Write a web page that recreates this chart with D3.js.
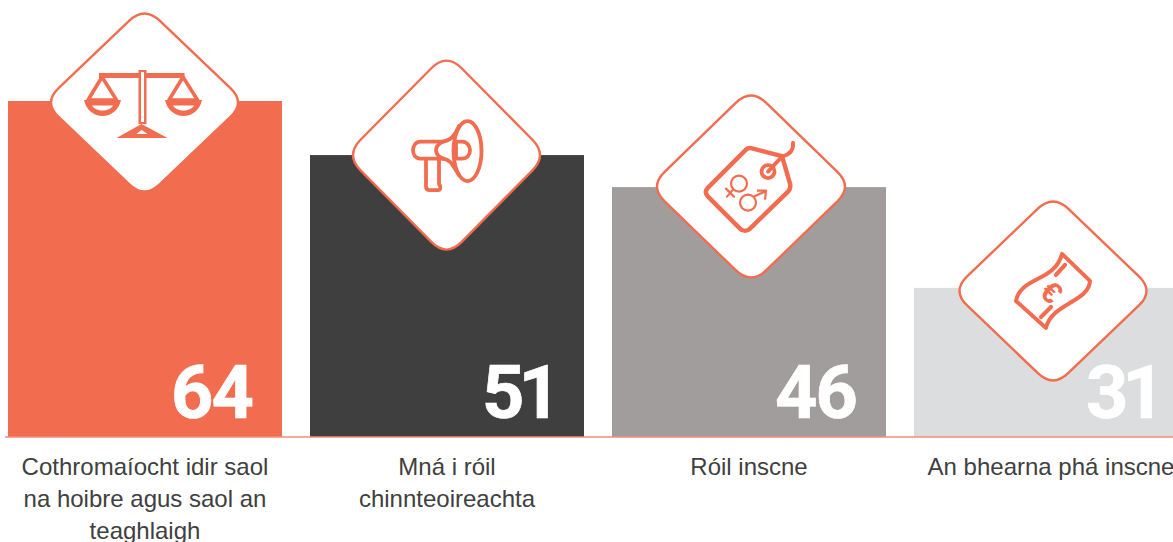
<!DOCTYPE html>
<html><head><meta charset="utf-8">
<script src="https://cdn.jsdelivr.net/npm/d3@7"></script>
<style>html,body{margin:0;padding:0;background:#fff;overflow:hidden}svg{display:block}
text{font-family:"Liberation Sans",Arial,Helvetica,sans-serif}</style>
</head><body><div id="c"></div>
<script>
const categories = ["equality","leaders","roles","pay"];
const valueLabels = ["64","51","46","31"];
// Drawn bar heights (not strictly proportional to the printed labels)
const barLevels = [64, 53.7, 47.6, 28.4];
const categoryLines = [
  ["Cothromaíocht idir saol","na hoibre agus saol an","teaghlaigh"],
  ["Mná i róil","chinnteoireachta"],
  ["Róil inscne"],
  ["An bhearna phá inscne"]
];
const barColors = ["#f26c4f","#3f3f3f","#a19d9c","#dcddde"];

const W=1173,H=542,baseY=437,accent="#f26c4f";
const svg=d3.select("#c").append("svg").attr("width",W).attr("height",H);
const x=d3.scaleBand().domain(categories).range([8,1188]).paddingInner(28/302).paddingOuter(0);
const y=d3.scaleLinear().domain([0,64]).range([baseY,101]);

svg.selectAll("rect.bar").data(categories).join("rect").attr("class","bar")
  .attr("x",d=>x(d)).attr("width",x.bandwidth())
  .attr("y",(d,i)=>y(barLevels[i])).attr("height",(d,i)=>baseY-y(barLevels[i]))
  .attr("fill",(d,i)=>barColors[i]);

svg.append("line").attr("x1",5).attr("x2",W).attr("y1",437).attr("y2",437)
  .attr("stroke","#f58c7a").attr("stroke-width",1.5);

// diamonds
const diamondShape=[{dx:-.5,dy:1.5,rx:93.5,ry:89},{dx:-.5,dy:0,rx:93.5,ry:94.5},{dx:2,dy:-.5,rx:94,ry:91},{dx:2,dy:3,rx:93.5,ry:89.5}];
function diamondPath(rx,ry){
  const r=.15; // corner rounding share
  const k=1/(1-r/2);
  const ex=rx*k,ey=ry*k;
  const pts=[[0,-ey],[ex,0],[0,ey],[-ex,0]];
  let p="";
  pts.forEach((c,i)=>{
    const a=pts[(i+3)%4],b=pts[(i+1)%4];
    const s=[c[0]+(a[0]-c[0])*r,c[1]+(a[1]-c[1])*r],e=[c[0]+(b[0]-c[0])*r,c[1]+(b[1]-c[1])*r];
    p+=(i?"L":"M")+s[0]+","+s[1]+"Q"+c[0]+","+c[1]+" "+e[0]+","+e[1];
  });
  return p+"Z";
}
const groups=svg.selectAll("g.dia").data(categories).join("g").attr("class","dia")
 .attr("transform",(d,i)=>`translate(${x(d)+x.bandwidth()/2+diamondShape[i].dx},${y(barLevels[i])+diamondShape[i].dy})`);
groups.append("path").attr("d",(d,i)=>diamondPath(diamondShape[i].rx,diamondShape[i].ry))
  .attr("fill","#fff").attr("stroke",accent).attr("stroke-width",2.4);

// icons, drawn in their own local coordinates
const ic=groups.append("g").attr("fill","none").attr("stroke",accent).attr("stroke-linecap","round").attr("stroke-linejoin","round");
// scales
const s=ic.filter((d,i)=>i===0).append("g").attr("transform","translate(-144,-102.5)");
s.append("path").attr("d","M98.5,73H184V78H98.5Z M138,70H146V124H138Z").attr("fill",accent).attr("stroke","none");
s.append("rect").attr("x",140.5).attr("y",72).attr("width",3).attr("height",50).attr("fill","#fff").attr("stroke","none");
s.append("path").attr("d","M116,138L141,124L167,138Z").attr("fill",accent).attr("stroke","none");
s.append("path").attr("d","M136,134L141,130L147,134Z").attr("fill","#fff").attr("stroke","none");
[102,183].forEach(c=>{
  const off=c-101.5;
  s.append("path").attr("transform",`translate(${off},0)`).attr("d","M101,77L87,100H115.5Z").attr("stroke-width",3.6).attr("stroke-linecap","butt");
  s.append("path").attr("transform",`translate(${off},0)`).attr("d","M83,100H120C118,110 110,116 101.5,116C93,116 85,110 83,100Z").attr("fill",accent).attr("stroke","none");
  s.append("path").attr("transform",`translate(${off},0)`).attr("d","M91,105.5H112C110,109 106,110.5 101.5,110.5C97,110.5 93,109 91,105.5Z").attr("fill","#fff").attr("stroke","none");
});
// megaphone
const m=ic.filter((d,i)=>i===1).append("g").attr("transform","translate(-446.5,-155)").attr("stroke-width",3.8);
m.append("ellipse").attr("cx",467.5).attr("cy",151).attr("rx",14).attr("ry",30);
m.append("path").attr("d","M443,141.5H420.5C416,141.5 413,145.5 413,150C413,155 416,158.5 420.5,158.5H443");
m.append("path").attr("d","M443,141.5C438,144 436,147 436,150C436,154 439,157 443,158.5");
m.append("path").attr("d","M443,141.5C450,141 455,136 459,126 M443,158.5C451,159.5 453,166 459,175");
m.append("path").attr("d","M456,141.5H462C467,141.5 470,146 470,150C470,155 467,158.5 462,158.5H456V141.5");
m.append("path").attr("d","M426,159V186C426,189 427,190 429,190H438C441,190 441,186 439,184V159");
// tag
const t=ic.filter((d,i)=>i===2).append("g").attr("transform","translate(-751,-187)");
t.append("path").attr("stroke-width",4.4).attr("d","M746,150C748,148 749,148 751,148.5L782,156.5L790,184C791,188 790,190 788,192L750,229C747,232 743,232 740,229L708,197C705,194 705,191 708,188Z");
t.append("circle").attr("cx",768).attr("cy",172).attr("r",6.5).attr("stroke-width",3.8);
t.append("path").attr("stroke-width",3.8).attr("d","M768,172L782,157C790,155 794,151 793,143");
t.append("g").attr("stroke-width",2.2).call(g=>{
  g.append("circle").attr("cx",739).attr("cy",184).attr("r",8);
  g.append("path").attr("d","M733,190L727,197 M726,189L734,197");
  g.append("circle").attr("cx",748).attr("cy",203).attr("r",8);
  g.append("path").attr("d","M754,197L765,192 M757,191L766,191L765,200").attr("stroke-linecap","butt");
});
// banknote
const b=ic.filter((d,i)=>i===3).append("g").attr("transform","translate(-1051,-291)").attr("stroke-width",4);
b.append("path").attr("d","M1060,254L1088,281C1087,302 1050,303 1044,328L1014,301C1018,277 1053,282 1060,254Z");
b.append("path").attr("d","M1063,265L1054,275 M1049,307L1039,317").attr("stroke-width",4.2);
b.append("text").attr("x",0).attr("y",0).attr("transform","translate(1050,292) rotate(45)").attr("text-anchor","middle").attr("dy","0.36em")
  .attr("font-size",30).attr("font-weight","bold").attr("fill",accent).attr("stroke","none").text("€");

// value labels
const valueSpacing=[-2,-6,-2,-6], valueNudge=[0,1,0,1];
svg.selectAll("text.val").data(categories).join("text").attr("class","val")
  .attr("x",(d,i)=>x(d)+x.bandwidth()-30+valueNudge[i]).attr("y",418).attr("text-anchor","end")
  .style("font-family","Roboto").style("letter-spacing",(d,i)=>valueSpacing[i]+"px")
  .attr("font-weight","bold").attr("font-size",74).attr("fill","#fff")
  .attr("stroke","#fff").attr("stroke-width",.7)
  .text((d,i)=>valueLabels[i]);

// category labels
const lab=svg.selectAll("text.lab").data(categories).join("text").attr("class","lab")
  .attr("text-anchor","middle").attr("font-size",24).attr("fill","#404040");
lab.each(function(d,i){
  d3.select(this).selectAll("tspan").data(categoryLines[i]).join("tspan")
   .attr("x",x(d)+x.bandwidth()/2).attr("y",(l,j)=>475+j*32).text(l=>l);
});
</script></body></html>
